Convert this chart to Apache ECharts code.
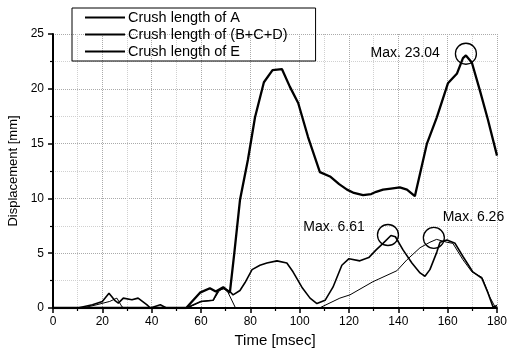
<!DOCTYPE html>
<html><head><meta charset="utf-8">
<script src="https://cdn.jsdelivr.net/npm/echarts@6/dist/echarts.min.js"></script>
<style>html,body{margin:0;padding:0;background:#fff}#c{width:510px;height:355px}</style>
</head><body><div id="c"></div>
<script>
// Time [msec], Displacement [mm]
var seriesNames = ['Crush length of A', 'Crush length of (B+C+D)', 'Crush length of E'];
var xTicks = [0, 20, 40, 60, 80, 100, 120, 140, 160, 180];
var yTicks = [0, 5, 10, 15, 20, 25];

var crushA = [[0,0],[10,0],[16,0.3],[20,0.6],[22.7,1.35],[25,0.7],[26.5,0.45],[28.5,0.9],[32,0.75],[34.5,0.9],[38,0.3],[39.5,0],[43.5,0.3],[46,0],[54,0],[57,0.3],[60,0.6],[64.9,0.7],[67,1.6],[69,1.8],[71.7,1.5],[73,1.2],[75.8,1.6],[77.8,2.3],[80.7,3.5],[83.9,3.9],[86.7,4.1],[90.8,4.3],[94.8,4.1],[97.3,3.3],[100.9,1.9],[104.2,0.9],[107,0.4],[110.3,0.7],[113.5,1.9],[117.1,3.9],[120,4.5],[124.4,4.3],[128,4.6],[131,5.3],[133.8,5.9],[137,6.61],[138.8,6.5],[141.9,5.3],[145.5,4.1],[148.8,3.2],[150.8,2.9],[152.8,3.5],[155.6,5.1],[156.9,6.0],[159.7,6.2],[163,5.9],[166.2,4.7],[170.2,3.3],[173.9,2.7],[176.3,1.4],[178.4,0.1],[180,0.2]];

var crushBCD = [[0,0],[54,0],[56,0.5],[59.6,1.4],[63.6,1.8],[66,1.5],[69,1.9],[71.7,1.4],[73.5,5],[75.8,9.85],[79,13.5],[81.9,17.4],[85.5,20.6],[89,21.7],[92.8,21.8],[96,20.2],[99.4,18.7],[103.4,15.6],[108.2,12.4],[112.3,12.0],[116,11.3],[119.2,10.8],[122,10.5],[125.7,10.3],[129,10.4],[131,10.6],[133.8,10.8],[137,10.9],[140.6,11.0],[143.5,10.8],[146.7,10.2],[151.6,15.0],[155.6,17.4],[160.1,20.5],[163.8,21.4],[166.2,22.8],[167.4,23.04],[169.8,22.4],[173,19.9],[176.3,17.2],[180,13.9]];

var crushE = [[0,0],[12,0],[17.8,0.3],[23,0.6],[25.9,0.9],[28,0.1],[29,0],[54.5,0],[60,0.6],[65,0.7],[67.5,1.6],[69.5,1.8],[71,1.4],[74,0],[108,0],[116.3,0.9],[120.4,1.2],[129.7,2.4],[139.4,3.4],[143.5,4.4],[148.8,5.5],[152.8,6.0],[155.5,6.26],[159.7,6.0],[162.1,5.9],[166.2,4.4],[169.8,3.3],[173.9,2.8],[177.1,1.0],[179.2,0.1],[180,0.3]];

var maxLabels = [
  {series: 1, coord: [167.4, 23.2], text: 'Max. 23.04'},
  {series: 0, coord: [135.8, 6.66], text: 'Max. 6.61'},
  {series: 2, coord: [154.4, 6.4], text: 'Max. 6.26'}
];

var font = 'Arial, "Liberation Sans", sans-serif';
var chart = echarts.init(document.getElementById('c'));

function mp(i) {
  var m = maxLabels.filter(function (d) { return d.series === i; });
  if (!m.length) return undefined;
  var d = m[0];
  var lab;
  if (i === 1) lab = {position: 'left', distance: 15, offset: [0, -1]};
  else if (i === 0) lab = {position: 'left', distance: 12, offset: [0, -8]};
  else lab = {position: [20, -10], align: 'left', verticalAlign: 'middle'};
  lab.show = true; lab.formatter = d.text; lab.color = '#000'; lab.fontSize = 14; lab.fontFamily = font;
  return {
    symbol: 'circle', symbolSize: 21, silent: true,
    itemStyle: {color: 'rgba(0,0,0,0)', borderColor: '#000', borderWidth: 1.3},
    label: lab,
    data: [{coord: d.coord}]
  };
}

var widths = [1.6, 2.3, 1.0];
var datas = [crushA, crushBCD, crushE];

chart.setOption({
  animation: false,
  backgroundColor: '#fff',
  grid: {left: 53, right: 13, top: 34, bottom: 47, containLabel: false, outerBoundsMode: 'none'},
  legend: {
    orient: 'vertical', left: 72, top: 8,
    data: seriesNames,
    borderColor: '#000', borderWidth: 1,
    padding: [2, 28, 2, 12], itemGap: 2,
    itemWidth: 40, itemHeight: 14,
    itemStyle: {opacity: 0},
    textStyle: {fontSize: 14.5, color: '#000', fontFamily: font, padding: [0, 0, 0, -2]},
    selectedMode: false
  },
  xAxis: {
    type: 'value', min: 0, max: 180, interval: 20,
    name: 'Time [msec]', nameLocation: 'middle', nameGap: 23,
    nameTextStyle: {fontSize: 15, color: '#000', fontFamily: font},
    axisLine: {show: true, lineStyle: {color: '#000', width: 2}},
    axisTick: {show: true, inside: false, length: 5, lineStyle: {color: '#000', width: 1.5}},
    minorTick: {show: true, splitNumber: 2, length: 3, lineStyle: {color: '#000', width: 1.2}},
    axisLabel: {fontSize: 12, color: '#000', fontFamily: font, margin: 8},
    splitLine: {show: true, lineStyle: {color: '#aaa', type: 'dotted', width: 1}},
    minorSplitLine: {show: true, lineStyle: {color: '#d0d0d0', type: 'dotted', width: 1}}
  },
  yAxis: {
    type: 'value', min: 0, max: 25, interval: 5,
    name: 'Displacement [mm]', nameLocation: 'middle', nameGap: 33,
    nameTextStyle: {fontSize: 13, color: '#000', fontFamily: font},
    axisLine: {show: true, lineStyle: {color: '#000', width: 2}},
    axisTick: {show: true, inside: false, length: 5, lineStyle: {color: '#000', width: 1.5}},
    minorTick: {show: true, splitNumber: 2, length: 3, lineStyle: {color: '#000', width: 1.2}},
    axisLabel: {fontSize: 12, color: '#000', fontFamily: font, margin: 9},
    splitLine: {show: true, lineStyle: {color: '#aaa', type: 'dotted', width: 1}},
    minorSplitLine: {show: true, lineStyle: {color: '#d0d0d0', type: 'dotted', width: 1}}
  },
  series: seriesNames.map(function (n, i) {
    return {
      name: n, type: 'line', data: datas[i], showSymbol: false, symbol: 'none',
      lineStyle: {color: '#000', width: widths[i]},
      itemStyle: {color: '#000'},
      z: 3 - i,
      markPoint: mp(i)
    };
  })
});
</script></body></html>
